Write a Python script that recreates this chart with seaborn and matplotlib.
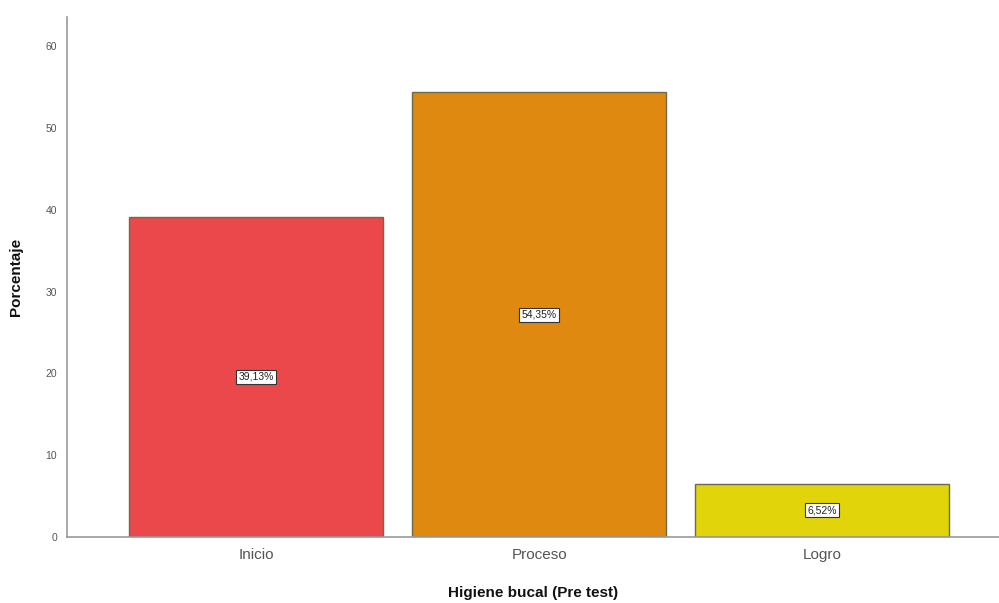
import pandas as pd
import matplotlib
matplotlib.use("Agg")
import matplotlib.pyplot as plt
import seaborn as sns

# Data
categories = ["Inicio", "Proceso", "Logro"]
percentages = [39.13, 54.35, 6.52]
bar_colors = ["#EA484B", "#DF8910", "#E2D40B"]
yticks = [0, 10, 20, 30, 40, 50, 60]

df = pd.DataFrame({"Nivel": categories, "Porcentaje": percentages})

sns.set_style("white")
plt.rcParams["font.family"] = ["Liberation Sans", "DejaVu Sans"]

fig = plt.figure(figsize=(9.99, 6.03), dpi=100)
ax = fig.add_axes([67 / 999, 66 / 603, 932 / 999, 520 / 603])

sns.barplot(data=df, x="Nivel", y="Porcentaje", hue="Nivel",
            palette=bar_colors, width=0.9, edgecolor="#6E6A4A",
            linewidth=1.0, legend=False, ax=ax, saturation=1)

# value labels inside the bars
for i, val in enumerate(percentages):
    ax.text(i, val / 2, f"{val:.2f}%".replace(".", ","), ha="center", va="center",
            fontsize=7.5, color="#222222",
            bbox=dict(boxstyle="square,pad=0.2", facecolor="white",
                      edgecolor="#333333", linewidth=0.8))

ax.set_xlim(-0.668, 2.625)
ax.set_ylim(0, 63.55)
ax.set_yticks(yticks)
ax.tick_params(axis="y", labelsize=7.5, colors="#555555", length=0, pad=7)
ax.tick_params(axis="x", labelsize=11, colors="#555555", length=0, pad=8)

ax.set_xlabel("Higiene bucal (Pre test)", fontsize=11, fontweight="bold",
              color="#111111", labelpad=17)
ax.set_ylabel("Porcentaje", fontsize=11, fontweight="bold",
              color="#111111", labelpad=16)

for side in ["top", "right"]:
    ax.spines[side].set_visible(False)
for side in ["left", "bottom"]:
    ax.spines[side].set_color("#999999")
    ax.spines[side].set_linewidth(1.2)

fig.savefig("out.png", dpi=100)
